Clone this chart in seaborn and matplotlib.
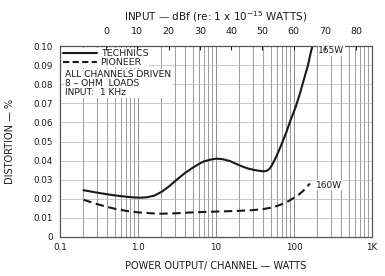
import matplotlib
matplotlib.use("Agg")
import matplotlib.pyplot as plt
import seaborn as sns
import pandas as pd
import numpy as np
from matplotlib.ticker import FixedLocator, NullFormatter, LogLocator
from matplotlib.lines import Line2D

# ---- data ----
technics_w = [0.2, 0.25, 0.3, 0.4, 0.5, 0.7, 0.9, 1.1, 1.3, 1.6, 2, 2.5, 3, 4, 5, 6, 7, 8.5, 10, 12, 15,
              20, 25, 30, 35, 40, 44, 48, 52, 60, 70, 80, 90, 105, 120, 135, 150, 165, 172]
technics_d = [0.0245, 0.0238, 0.0232, 0.0224, 0.0218, 0.0211, 0.0207, 0.0206, 0.0208, 0.0216, 0.0236,
              0.0265, 0.0293, 0.0335, 0.0362, 0.0382, 0.0396, 0.0405, 0.0410, 0.0408, 0.0398,
              0.0375, 0.0360, 0.0352, 0.0347, 0.0344, 0.0345, 0.0355, 0.0375, 0.0425, 0.0490,
              0.0550, 0.0610, 0.0680, 0.0755, 0.0830, 0.0895, 0.0970, 0.1000]
pioneer_w = [0.2, 0.3, 0.4, 0.5, 0.7, 1.0, 1.5, 2, 3, 5, 10, 20, 30, 40, 50, 60, 70, 85, 100, 115, 130, 145, 160]
pioneer_d = [0.0195, 0.0172, 0.0158, 0.0148, 0.0137, 0.0129, 0.0124, 0.0122, 0.0124, 0.0129, 0.0133,
             0.0137, 0.0141, 0.0146, 0.0153, 0.0162, 0.0172, 0.0188, 0.0205, 0.0222, 0.0240, 0.0260, 0.0280]

x_ticks = [0.1, 1, 10, 100, 1000]
x_ticklabels = ["0.1", "1.0", "10", "100", "1K"]
y_ticks = [0, 0.01, 0.02, 0.03, 0.04, 0.05, 0.06, 0.07, 0.08, 0.09, 0.10]
y_ticklabels = ["0", "0.01", "0.02", "0.03", "0.04", "0.05", "0.06", "0.07", "0.08", "0.09", "0.10"]
dbf_ticks = [0, 10, 20, 30, 40, 50, 60, 70, 80]
dbf_lim = (-14.7, 85.0)

df = pd.concat([
    pd.DataFrame({"W": technics_w, "D": technics_d, "brand": "TECHNICS"}),
    pd.DataFrame({"W": pioneer_w, "D": pioneer_d, "brand": "PIONEER"}),
])

sns.set_theme(style="white")
plt.rcParams['font.family'] = ['DejaVu Sans']
ink = "#1a1a1a"
grid = "#8a8a8a"

fig = plt.figure(figsize=(3.85, 2.76), dpi=100)
ax = fig.add_axes([60/385, 1-237/276, 312/385, 191/276])

sns.lineplot(data=df, x="W", y="D", hue="brand", style="brand",
             palette={"TECHNICS": ink, "PIONEER": ink},
             dashes={"TECHNICS": "", "PIONEER": (4, 2.2)},
             linewidth=1.5, ax=ax, legend=False, sort=False, estimator=None)

ax.set_xscale("log")
ax.set_xlim(0.1, 1000)
ax.set_ylim(0, 0.10)
ax.xaxis.set_major_locator(FixedLocator(x_ticks))
ax.set_xticklabels(x_ticklabels)
ax.xaxis.set_minor_locator(LogLocator(base=10, subs=np.arange(2, 10)))
ax.xaxis.set_minor_formatter(NullFormatter())
ax.set_yticks(y_ticks)
ax.set_yticklabels(y_ticklabels)
ax.grid(True, which="major", axis="x", color=grid, lw=0.7)
ax.grid(True, which="minor", axis="x", color=grid, lw=0.6)
ax.grid(True, which="major", axis="y", color="#b5b5b5", lw=0.5)
ax.tick_params(axis="both", which="both", length=0, labelsize=6.3, colors=ink)
ax.tick_params(axis="y", pad=5)
ax.tick_params(axis="x", pad=4)
for s in ax.spines.values():
    s.set_color("#555555")
    s.set_linewidth(0.9)
ax.set_xlabel("POWER OUTPUT/ CHANNEL — WATTS", fontsize=7, color=ink, labelpad=7)
ax.set_ylabel("DISTORTION — %", fontsize=7, color=ink, labelpad=13)

# top dBf axis
ax2 = ax.twiny()
ax2.set_xlim(*dbf_lim)
ax2.set_xticks(dbf_ticks)
ax2.set_xticklabels([str(t) for t in dbf_ticks])
ax2.tick_params(axis="x", direction="in", length=3, width=0.7, labelsize=6.8, colors=ink, pad=7)
ax2.set_xlabel("INPUT — dBf (re: 1 x 10$^{-15}$ WATTS)", fontsize=7.5, color=ink, labelpad=5)
for s in ax2.spines.values():
    s.set_visible(False)

# legend
handles = [Line2D([], [], color=ink, lw=1.5),
           Line2D([], [], color=ink, lw=1.5, ls=(0, (3, 1.6)))]
leg = ax.legend(handles, ["TECHNICS", "PIONEER"], loc="upper left", fontsize=6.8,
                frameon=True, facecolor="white", edgecolor="none", framealpha=1,
                handlelength=3.6, handletextpad=0.4, borderpad=0.1, labelspacing=0.0,
                borderaxespad=0.2, fancybox=False)
ax.text(0.015, 0.872, "ALL CHANNELS DRIVEN\n8 – OHM  LOADS\nINPUT:  1 KHz",
        transform=ax.transAxes, fontsize=6.6, color=ink, va="top", ha="left",
        linespacing=0.98, bbox=dict(facecolor="white", edgecolor="none", pad=0.8))

ax.text(205, 0.0975, "165W", fontsize=6.5, color=ink, ha="left", va="center",
        bbox=dict(facecolor="white", edgecolor="none", pad=0.5))
ax.text(190, 0.0272, "160W", fontsize=6.5, color=ink, ha="left", va="center",
        bbox=dict(facecolor="white", edgecolor="none", pad=0.5))

fig.savefig("out.png", dpi=100)
